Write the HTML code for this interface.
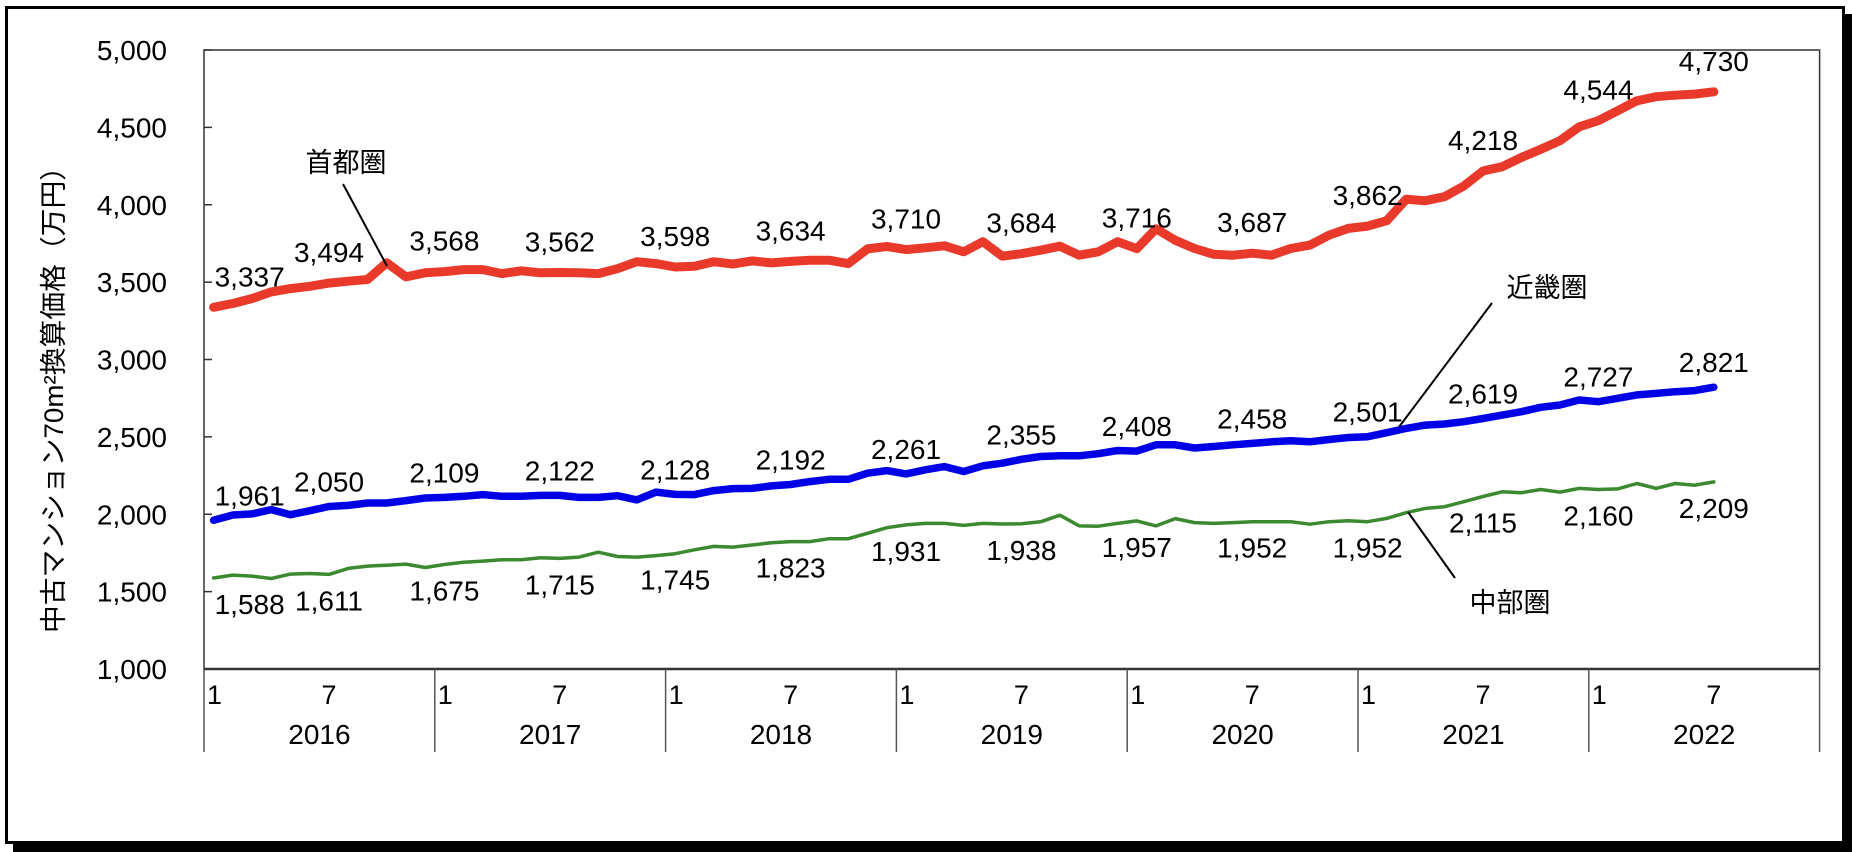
<!DOCTYPE html>
<html><head><meta charset="utf-8"><style>
html,body{margin:0;padding:0;background:#fff;}
svg{display:block;}
text{font-family:"Liberation Sans","Noto Sans CJK JP",sans-serif;fill:#000;}
</style></head><body>
<svg id="chart" width="1852" height="852" viewBox="0 0 1852 852" xmlns="http://www.w3.org/2000/svg">
<rect x="13" y="14" width="1839" height="838" fill="#000"/>
<rect x="6.5" y="7.5" width="1837" height="835" fill="#fff" stroke="#000" stroke-width="3"/>
<g id="axes"></g>
<g id="series"></g>
<g id="labels"></g>
<text transform="translate(63,393) rotate(-90)" text-anchor="middle" font-size="27" textLength="480" lengthAdjust="spacingAndGlyphs">中古マンション70m²換算価格（万円）</text>
<line x1="343" y1="184" x2="387" y2="266" stroke="#000" stroke-width="2"/>
<text x="346" y="172" text-anchor="middle" font-size="27">首都圏</text>
<line x1="1492" y1="303" x2="1399" y2="427" stroke="#000" stroke-width="2"/>
<text x="1547" y="297" text-anchor="middle" font-size="27">近畿圏</text>
<line x1="1408" y1="512" x2="1455" y2="578" stroke="#000" stroke-width="2"/>
<text x="1510" y="612" text-anchor="middle" font-size="27">中部圏</text>
</svg>
<script>
const years = ["2016","2017","2018","2019","2020","2021","2022"];
const yTicks = [1000,1500,2000,2500,3000,3500,4000,4500,5000];
const shutoken = [3337,3362,3394,3437,3458,3473,3494,3506,3517,3625,3534,3560,3568,3581,3581,3555,3573,3560,3562,3560,3555,3587,3632,3620,3598,3603,3632,3617,
3637,3624,3634,3642,3642,3620,3715,3730,3710,3722,3735,3696,3761,3668,3684,3706,3732,3674,3696,3761,3716,3845,3770,3717,3680,3674,3687,
3674,3717,3739,3804,3847,3862,3897,4035,4026,4052,4121,4218,4246,4306,4358,4414,4504,4544,4608,4672,4698,4708,4715,4730];
const kinki = [1961,1995,2002,2030,1997,2023,2050,2057,2073,2073,2088,2105,2109,2116,2127,2116,2116,2122,2122,2109,2109,2120,2093,2143,2128,2127,2153,2166,
2167,2183,2192,2211,2226,2226,2265,2282,2261,2287,2308,2276,2313,2330,2355,2373,2378,2378,2391,2412,2408,2449,2449,2428,2438,2449,2458,
2468,2475,2468,2483,2496,2501,2527,2555,2576,2583,2598,2619,2641,2663,2691,2706,2738,2727,2749,2771,2781,2792,2799,2821];
const chubu = [1588,1607,1600,1585,1613,1617,1611,1650,1665,1671,1678,1656,1675,1690,1697,1706,1706,1719,1715,1723,1755,1727,1723,1733,1745,1770,1792,1788,
1801,1816,1823,1823,1842,1842,1877,1913,1931,1941,1941,1928,1941,1937,1938,1951,1994,1925,1923,1941,1957,1925,1972,1946,1941,1946,1952,
1952,1952,1936,1952,1958,1952,1973,2010,2038,2049,2081,2115,2145,2139,2160,2143,2167,2160,2164,2199,2167,2199,2188,2209];
const labelIdx = [0,6,12,18,24,30,36,42,48,54,60,66,72,78];

const NS="http://www.w3.org/2000/svg";
const L=204,R=1819.6,T=50,B=669,slot=(R-L)/84;
const xs=i=>L+(i+0.5)*slot;
const ys=v=>B-(v-1000)*(B-T)/4000;
function mk(tag,attrs,parent,txt){const e=document.createElementNS(NS,tag);for(const k in attrs)e.setAttribute(k,attrs[k]);if(txt!==undefined)e.textContent=txt;parent.appendChild(e);return e;}
const ax=document.getElementById('axes'),se=document.getElementById('series'),lb=document.getElementById('labels');
let e=mk('rect',{x:L,y:T,width:R-L,height:B-T,fill:'none',stroke:'#333','stroke-width':1.5},ax);


yTicks.forEach(v=>{
  let t=mk('line',{x1:L,x2:L+8,y1:ys(v),y2:ys(v),stroke:'#333','stroke-width':1.5},ax);
  
  
  let s=mk('text',{x:167,y:ys(v)+10,'text-anchor':'end','font-size':28},ax,v.toLocaleString('en-US'));
  
  
});
let bl=mk('line',{x1:L,x2:R,y1:B,y2:B,stroke:'#333','stroke-width':2.5},ax);


for(let k=0;k<=years.length;k++){
  const x=L+k*12*slot;
  let l=mk('line',{x1:x,x2:x,y1:B,y2:752,stroke:'#555','stroke-width':1.5},ax);
  
  
  if(k<years.length){
    let a=mk('text',{x:x+3,y:704,'font-size':27},ax,'1');
    
    
    let b=mk('text',{x:xs(k*12+6),y:704,'text-anchor':'middle','font-size':27},ax,'7');
    
    
    let y=mk('text',{x:x+6*slot,y:744,'text-anchor':'middle','font-size':28},ax,years[k]);
    
    
  }
}
const defs=[[chubu,'#3c8a30',3.5,36,'chubu-line'],[kinki,'#0000e6',7.5,-15,'kinki-line'],[shutoken,'#e8392a',9,-21,'shutoken-line']];
defs.forEach(([d,c,w,dy,name])=>{
  const p=mk('polyline',{points:d.map((v,i)=>xs(i).toFixed(1)+','+ys(v).toFixed(1)).join(' '),fill:'none',stroke:c,'stroke-width':w,'stroke-linejoin':'round','stroke-linecap':'round'},se);
  
  
  labelIdx.forEach(i=>{
    const first=i===0;
    const t=mk('text',{x:first?xs(i)+1:xs(i),y:ys(d[i])+dy,'text-anchor':first?'start':'middle','font-size':28},lb,d[i].toLocaleString('en-US'));
    
    
  });
});
</script>
</body></html>
